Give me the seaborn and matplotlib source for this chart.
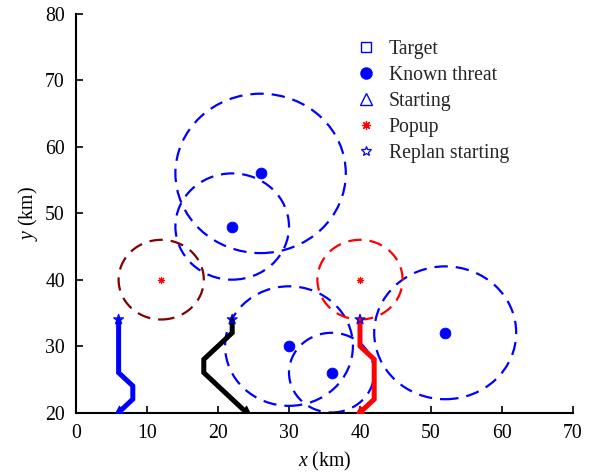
import numpy as np
import pandas as pd
import matplotlib
matplotlib.use("Agg")
import matplotlib.pyplot as plt
from matplotlib.patches import Circle
from matplotlib.lines import Line2D
import seaborn as sns

# ---- data ----
threat_x = [26, 22, 30, 36, 52]
threat_y = [56, 48, 30, 26, 32]
threat_r = [12, 8, 9, 6, 10]

popup_x = [12, 40]
popup_y = [40, 40]
popup_r = [6, 6]
popup_circle_colors = ["#800000", "#FF0000"]

path_blue_x = [6, 8, 8, 6, 6]
path_blue_y = [20, 22, 24, 26, 34]
path_black_x = [24, 18, 18, 22, 22]
path_black_y = [20, 26, 28, 32, 34]
path_red_x = [40, 42, 42, 40, 40]
path_red_y = [20, 22, 28, 30, 34]

start_x = [6, 24, 40]
start_y = [20, 20, 20]
replan_x = [6, 22, 40]
replan_y = [34, 34, 34]

legend_labels = ["Target", "Known threat", "Starting", "Popup", "Replan starting"]
x_ticks = [0, 10, 20, 30, 40, 50, 60, 70]
y_ticks = [20, 30, 40, 50, 60, 70, 80]

# ---- style ----
sns.set_style("ticks")
plt.rcParams["font.family"] = ["Liberation Serif", "DejaVu Serif"]
plt.rcParams["mathtext.fontset"] = "custom"
plt.rcParams["mathtext.it"] = "Liberation Serif:italic"
plt.rcParams["mathtext.rm"] = "Liberation Serif"

FS = 14.2
fig = plt.figure(figsize=(5.91, 4.73), dpi=100)
ax = fig.add_axes([76/591, 1 - 412.5/473, (573-76)/591, (412.5-14)/473])

BLUE = "#0000FF"
RED = "#FF0000"
dash = (0, (6, 3.6))
ASTER = (8, 2, 0)

# threat circles
for cx, cy, r in zip(threat_x, threat_y, threat_r):
    ax.add_patch(Circle((cx, cy), r, fill=False, edgecolor=BLUE, lw=1.6, linestyle=dash))
for cx, cy, r, c in zip(popup_x, popup_y, popup_r, popup_circle_colors):
    ax.add_patch(Circle((cx, cy), r, fill=False, edgecolor=c, lw=1.6, linestyle=dash))

# paths
for px, py, col in [(path_blue_x, path_blue_y, BLUE),
                    (path_black_x, path_black_y, "black"),
                    (path_red_x, path_red_y, RED)]:
    df = pd.DataFrame({"x": px, "y": py})
    sns.lineplot(data=df, x="x", y="y", sort=False, estimator=None, color=col,
                 lw=3.6, ax=ax, solid_joinstyle="miter")

# markers
sns.scatterplot(x=threat_x, y=threat_y, color=BLUE, s=60, edgecolor=BLUE, ax=ax, zorder=5)
sns.scatterplot(x=popup_x, y=popup_y, color=RED, marker=ASTER, s=20, linewidth=0.8,
                edgecolor=RED, ax=ax, zorder=5)
for sx, sy, col in zip(start_x, start_y, [BLUE, "black", RED]):
    sns.scatterplot(x=[sx], y=[sy], color=col, marker="^", s=110, edgecolor=col, ax=ax, zorder=5)
sns.scatterplot(x=replan_x, y=replan_y, marker="*", s=55, color=BLUE,
                edgecolor=BLUE, linewidth=0.9, ax=ax, zorder=6)
ax.collections[-1].set_facecolor("none")

ax.set_xlim(0, 70)
ax.set_ylim(20, 80)
ax.set_xticks(x_ticks)
ax.set_yticks(y_ticks)
ax.tick_params(direction="in", length=5, width=1.2, labelsize=FS, pad=8,
               color="black", labelcolor="black")
for s in ["top", "right"]:
    ax.spines[s].set_visible(False)
for s in ["left", "bottom"]:
    ax.spines[s].set_linewidth(1.5)
    ax.spines[s].set_color("black")
ax.set_xlabel(r"$x$ (km)", fontsize=FS, labelpad=5, color="black")
ax.set_ylabel(r"$y$ (km)", fontsize=FS, labelpad=4, color="black")

handles = [
    Line2D([], [], ls="none", marker="s", mfc="none", mec=BLUE, ms=7, mew=1.0),
    Line2D([], [], ls="none", marker="o", mfc=BLUE, mec=BLUE, ms=8),
    Line2D([], [], ls="none", marker="^", mfc="none", mec=BLUE, ms=8, mew=1.0),
    Line2D([], [], ls="none", marker=ASTER, mfc=RED, mec=RED, ms=6.5, mew=0.9),
    Line2D([], [], ls="none", marker="*", mfc="none", mec=BLUE, ms=7.5, mew=0.9),
]
ax.legend(handles, legend_labels, loc="upper left", bbox_to_anchor=(358/591, 1 - 40/473),
          bbox_transform=fig.transFigure, frameon=False, fontsize=FS,
          handlelength=0.8, handletextpad=0.75, labelspacing=0.36, borderpad=0, borderaxespad=0)

fig.savefig("out.png", dpi=100)
